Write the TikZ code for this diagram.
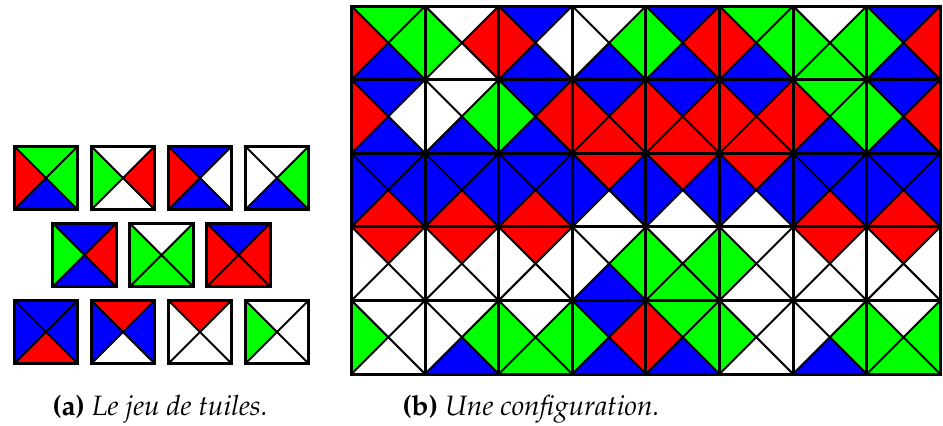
\documentclass[tikz,border=0pt]{standalone}
\usepackage[T1]{fontenc}
\usepackage{mathpazo}
\usepackage{tikz}
\usetikzlibrary{positioning}
\usepackage{xcolor}
\definecolor{rouge}{HTML}{FF0000}
\definecolor{vert}{HTML}{00FF00}
\definecolor{bleu}{HTML}{0000FF}
\definecolor{blanc}{HTML}{FFFFFF}
\tikzset{bord/.style={black,line width=1.5pt},diag/.style={black,line width=1pt},
  legende/.style={anchor=base west,inner sep=0pt,font=\fontsize{14}{17}\selectfont}}
% #1,#2 centre, #3 demi-cote, #4..#7 couleurs N E S O
\newcommand{\tuile}[7]{%
\begin{scope}[shift={(#1,#2)}]
\fill[#4] (-#3,-#3) -- (#3,-#3) -- (0,0) -- cycle;
\fill[#5] (#3,-#3) -- (#3,#3) -- (0,0) -- cycle;
\fill[#6] (#3,#3) -- (-#3,#3) -- (0,0) -- cycle;
\fill[#7] (-#3,#3) -- (-#3,-#3) -- (0,0) -- cycle;
\draw[diag] (-#3,-#3) -- (#3,#3) (#3,-#3) -- (-#3,#3);
\draw[bord] (-#3,-#3) rectangle (#3,#3);
\end{scope}}
\newcommand{\tuileA}[3]{\tuile{#1}{#2}{#3}{vert}{vert}{bleu}{rouge}}
\newcommand{\tuileB}[3]{\tuile{#1}{#2}{#3}{blanc}{rouge}{blanc}{vert}}
\newcommand{\tuileC}[3]{\tuile{#1}{#2}{#3}{bleu}{blanc}{bleu}{rouge}}
\newcommand{\tuileD}[3]{\tuile{#1}{#2}{#3}{blanc}{vert}{bleu}{blanc}}
\newcommand{\tuileE}[3]{\tuile{#1}{#2}{#3}{bleu}{rouge}{bleu}{vert}}
\newcommand{\tuileF}[3]{\tuile{#1}{#2}{#3}{blanc}{vert}{vert}{vert}}
\newcommand{\tuileG}[3]{\tuile{#1}{#2}{#3}{bleu}{rouge}{rouge}{rouge}}
\newcommand{\tuileH}[3]{\tuile{#1}{#2}{#3}{bleu}{bleu}{rouge}{bleu}}
\newcommand{\tuileI}[3]{\tuile{#1}{#2}{#3}{rouge}{bleu}{blanc}{bleu}}
\newcommand{\tuileJ}[3]{\tuile{#1}{#2}{#3}{rouge}{blanc}{blanc}{blanc}}
\newcommand{\tuileK}[3]{\tuile{#1}{#2}{#3}{blanc}{blanc}{blanc}{vert}}

\begin{document}
\begin{tikzpicture}[x=0.5pt,y=-0.5pt]
\useasboundingbox (0,0) rectangle (943,425);
% (a) le jeu de tuiles
\foreach \t [count=\i from 0] in {\tuileA,\tuileB,\tuileC,\tuileD} {\t{46+77*\i}{178}{31.9}}
\foreach \t [count=\i from 0] in {\tuileE,\tuileF,\tuileG} {\t{84.5+77*\i}{255}{31.9}}
\foreach \t [count=\i from 0] in {\tuileH,\tuileI,\tuileJ,\tuileK} {\t{46+77*\i}{332}{31.9}}
% (b) une configuration
\foreach \t [count=\i from 0] in {\tuileA,\tuileB,\tuileC,\tuileD,\tuileE,\tuileA,\tuileF,\tuileE} {\t{388.3+73.6*\i}{42.8}{36.8}}
\foreach \t [count=\i from 0] in {\tuileC,\tuileD,\tuileE,\tuileG,\tuileG,\tuileG,\tuileA,\tuileE} {\t{388.3+73.6*\i}{116.4}{36.8}}
\foreach \t [count=\i from 0] in {\tuileH,\tuileH,\tuileH,\tuileI,\tuileI,\tuileI,\tuileH,\tuileH} {\t{388.3+73.6*\i}{190}{36.8}}
\foreach \t [count=\i from 0] in {\tuileJ,\tuileJ,\tuileJ,\tuileD,\tuileF,\tuileK,\tuileJ,\tuileJ} {\t{388.3+73.6*\i}{263.6}{36.8}}
\foreach \t [count=\i from 0] in {\tuileK,\tuileD,\tuileF,\tuileE,\tuileA,\tuileK,\tuileD,\tuileF} {\t{388.3+73.6*\i}{337.2}{36.8}}
% legendes
\node[legende] (lega) at (52,415) {\textbf{(a)} \textit{Le jeu de tuiles.}};
\node[legende] (legb) at (402,415) {\textbf{(b)} \textit{Une configuration.}};
\end{tikzpicture}
\end{document}
